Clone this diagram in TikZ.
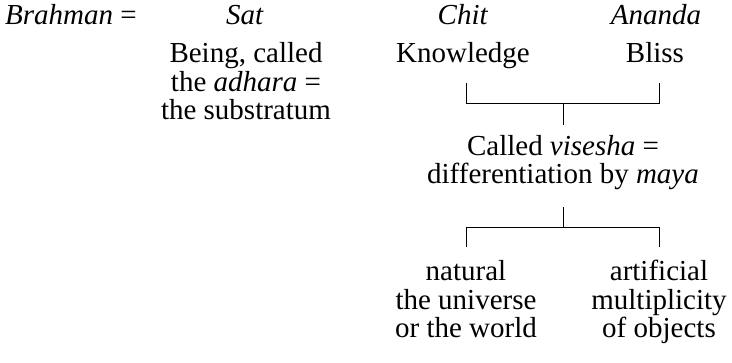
\documentclass[tikz,border=0pt]{standalone}
\usepackage{fontspec}
\setmainfont{Liberation Serif}
\usepackage{tikz}

\tikzset{
  txt/.style={anchor=base, inner sep=0pt, align=center, font=\fontsize{29}{28.6}\selectfont},
  brk/.style={line width=0.9pt}
}

\begin{document}
\begin{tikzpicture}[x=1pt,y=-1pt]
\useasboundingbox (0,0) rectangle (732,363);
\node[txt, anchor=base west] (brahman) at (5,25) {\textit{Brahman} =};
\node[txt] (sat) at (245,25) {\textit{Sat}};
\node[txt] (chit) at (463,25) {\textit{Chit}};
\node[txt] (ananda) at (656,25) {\textit{Ananda}};
% multi-line nodes: base is the last line
\node[txt] (being) at (246,120) {Being, called\\the \textit{adhara} =\\the substratum};
\node[txt] (know) at (463,63) {Knowledge};
\node[txt] (bliss) at (655,63) {Bliss};
\node[txt] (visesha) at (563,184) {Called \textit{visesha} =\\differentiation by \textit{maya}};
\node[txt] (natural) at (466,338) {natural\\the universe\\or the world};
\node[txt] (artificial) at (659,338) {artificial\\multiplicity\\of objects};
% upper bracket
\draw[brk] ([xshift=3pt,yshift=-20pt]know.base) -- ++(0,20) -| ([xshift=4pt,yshift=-20pt]bliss.base);
\draw[brk] ([yshift=59pt]visesha.base) -- ([yshift=81pt]visesha.base);
% lower bracket
\draw[brk] ([yshift=-23pt]visesha.base) -- ([yshift=-43pt]visesha.base);
\draw[brk] ([yshift=91pt]natural.base) -- ([yshift=111pt]natural.base) -| ([yshift=91pt]artificial.base);
\end{tikzpicture}
\end{document}
